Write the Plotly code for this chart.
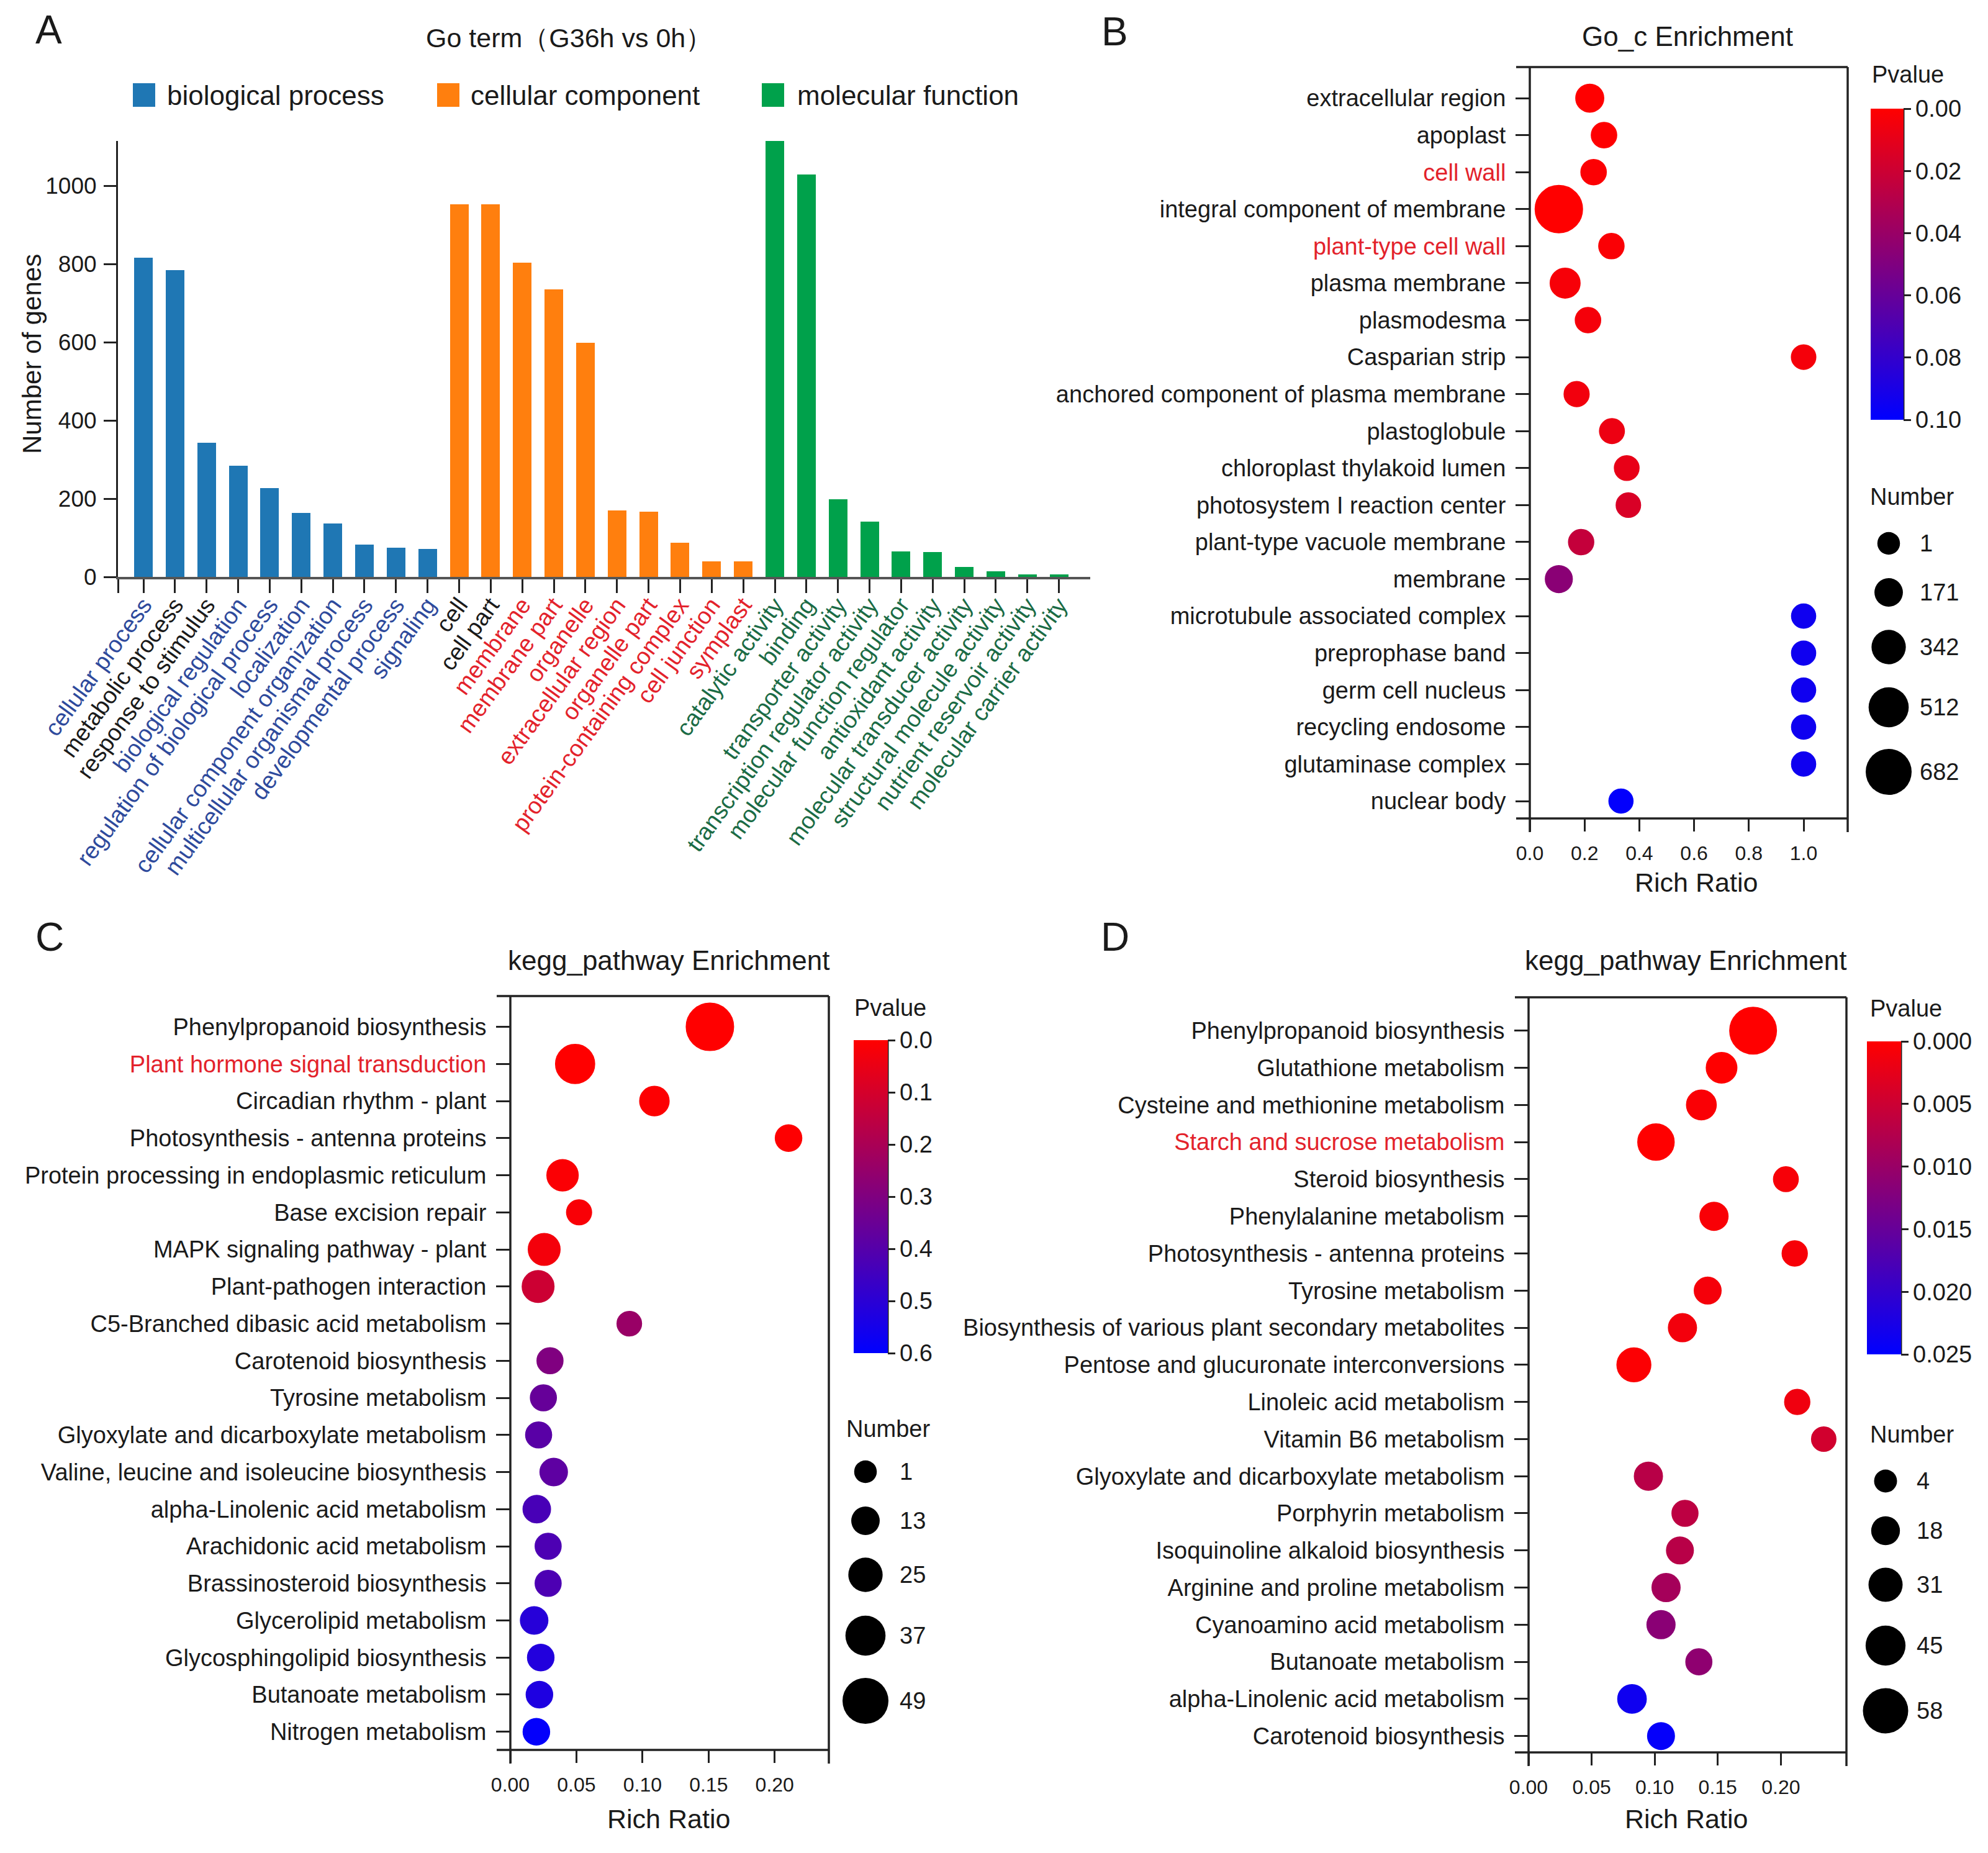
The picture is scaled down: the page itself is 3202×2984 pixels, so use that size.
import plotly.graph_objects as go

# ===================== DATA =====================
# Panel A: GO term bar chart (G36h vs 0h)
bp_terms = ["cellular process", "metabolic process", "response to stimulus", "biological regulation",
            "regulation of biological process", "localization", "cellular component organization",
            "multicellular organismal process", "developmental process", "signaling"]
bp_counts = [817, 785, 343, 285, 227, 163, 137, 82, 74, 71]
cc_terms = ["cell", "cell part", "membrane", "membrane part", "organelle", "extracellular region",
            "organelle part", "protein-containing complex", "cell junction", "symplast"]
cc_counts = [953, 953, 804, 735, 599, 170, 166, 88, 40, 40]
mf_terms = ["catalytic activity", "binding", "transporter activity", "transcription regulator activity",
            "molecular function regulator", "antioxidant activity", "molecular transducer activity",
            "structural molecule activity", "nutrient reservoir activity", "molecular carrier activity"]
mf_counts = [1115, 1029, 199, 142, 65, 63, 26, 15, 7, 6]
a_yticks = [0, 200, 400, 600, 800, 1000]
a_groups = ["biological process", "cellular component", "molecular function"]

# Panel B: Go_c Enrichment
goc_terms = ["extracellular region", "apoplast", "cell wall", "integral component of membrane",
             "plant-type cell wall", "plasma membrane", "plasmodesma", "Casparian strip",
             "anchored component of plasma membrane", "plastoglobule", "chloroplast thylakoid lumen",
             "photosystem I reaction center", "plant-type vacuole membrane", "membrane",
             "microtubule associated complex", "preprophase band", "germ cell nucleus",
             "recycling endosome", "glutaminase complex", "nuclear body"]
goc_ratio = [0.219, 0.271, 0.233, 0.106, 0.298, 0.129, 0.2125, 1.0, 0.171, 0.30, 0.354, 0.36,
             0.1875, 0.106, 1.0, 1.0, 1.0, 1.0, 1.0, 0.333]
goc_pvalue = [0.0, 0.0005, 0.001, 0.0, 0.002, 0.003, 0.004, 0.004, 0.005, 0.007, 0.009, 0.015,
              0.023, 0.046, 0.094, 0.094, 0.094, 0.094, 0.094, 0.099]
goc_number = [115, 40, 40, 682, 38, 172, 40, 12, 30, 25, 20, 12, 35, 86, 3, 3, 3, 3, 3, 2]
goc_xticks = [0.0, 0.2, 0.4, 0.6, 0.8, 1.0]
goc_pticks = [0.0, 0.02, 0.04, 0.06, 0.08, 0.10]
goc_size_legend = [1, 171, 342, 512, 682]

# Panel C: kegg_pathway Enrichment
kc_terms = ["Phenylpropanoid biosynthesis", "Plant hormone signal transduction", "Circadian rhythm - plant",
            "Photosynthesis - antenna proteins", "Protein processing in endoplasmic reticulum",
            "Base excision repair", "MAPK signaling pathway - plant", "Plant-pathogen interaction",
            "C5-Branched dibasic acid metabolism", "Carotenoid biosynthesis", "Tyrosine metabolism",
            "Glyoxylate and dicarboxylate metabolism", "Valine, leucine and isoleucine biosynthesis",
            "alpha-Linolenic acid metabolism", "Arachidonic acid metabolism", "Brassinosteroid biosynthesis",
            "Glycerolipid metabolism", "Glycosphingolipid biosynthesis", "Butanoate metabolism",
            "Nitrogen metabolism"]
kc_ratio = [0.151, 0.049, 0.109, 0.2105, 0.0395, 0.052, 0.0256, 0.021, 0.090, 0.030, 0.025, 0.0214,
            0.0328, 0.020, 0.0286, 0.0286, 0.018, 0.023, 0.022, 0.0197]
kc_pvalue = [0.0, 0.0, 0.005, 0.002, 0.01, 0.015, 0.025, 0.12, 0.24, 0.30, 0.36, 0.39, 0.38, 0.43,
             0.42, 0.42, 0.51, 0.52, 0.53, 0.59]
kc_number = [49, 32, 12, 6, 16, 3, 17, 17, 2, 5, 5, 5, 8, 8, 5, 5, 8, 6, 6, 6]
kc_xticks = [0.0, 0.05, 0.10, 0.15, 0.20]
kc_pticks = [0.0, 0.1, 0.2, 0.3, 0.4, 0.5, 0.6]
kc_size_legend = [1, 13, 25, 37, 49]

# Panel D: kegg_pathway Enrichment
kd_terms = ["Phenylpropanoid biosynthesis", "Glutathione metabolism", "Cysteine and methionine metabolism",
            "Starch and sucrose metabolism", "Steroid biosynthesis", "Phenylalanine metabolism",
            "Photosynthesis - antenna proteins", "Tyrosine metabolism",
            "Biosynthesis of various plant secondary metabolites", "Pentose and glucuronate interconversions",
            "Linoleic acid metabolism", "Vitamin B6 metabolism", "Glyoxylate and dicarboxylate metabolism",
            "Porphyrin metabolism", "Isoquinoline alkaloid biosynthesis", "Arginine and proline metabolism",
            "Cyanoamino acid metabolism", "Butanoate metabolism", "alpha-Linolenic acid metabolism",
            "Carotenoid biosynthesis"]
kd_ratio = [0.178, 0.153, 0.137, 0.101, 0.204, 0.147, 0.211, 0.142, 0.122, 0.0835, 0.213, 0.234,
            0.095, 0.124, 0.120, 0.109, 0.105, 0.135, 0.082, 0.105]
kd_pvalue = [0.0, 0.0, 0.0005, 0.0, 0.0008, 0.0006, 0.0008, 0.001, 0.0012, 0.0003, 0.0015, 0.0045,
             0.007, 0.0065, 0.007, 0.0088, 0.0115, 0.011, 0.0235, 0.0245]
kd_number = [58, 19, 17, 33, 5, 13, 6, 10, 13, 27, 6, 4, 13, 8, 10, 13, 13, 8, 14, 10]
kd_xticks = [0.0, 0.05, 0.10, 0.15, 0.20]
kd_pticks = [0.0, 0.005, 0.010, 0.015, 0.020, 0.025]
kd_size_legend = [4, 18, 31, 45, 58]

# highlighted labels
a_black_labels = {"metabolic process", "response to stimulus", "cell", "cell part"}
red_labels = {"cell wall", "plant-type cell wall", "Plant hormone signal transduction",
              "Starch and sucrose metabolism"}

# ===================== STYLE / GEOMETRY =====================
W, H = 3202, 2984
OFF = 8
FW, FH = W - 2 * OFF, H - 2 * OFF
FONT = "Liberation Sans, Arial, Helvetica, sans-serif"
TXT = "#1a1a1a"
AX = "#222222"
RED = "#e3222b"
BAR_COLORS = ["#1f77b4", "#ff7f0e", "#00a14b"]
A_LABEL_COLORS = ["#2e4a9c", "#e3222b", "#1b6b45"]
CSCALE = [[0.0, "#0000ff"], [1.0, "#ff0000"]]


def fx(p):
    return (p - OFF) / FW


def fy(p):
    return 1 - (p - OFF) / FH


def size_map(vals, lo, hi, dlo, dhi):
    return [dlo + (dhi - dlo) * (v - lo) / (hi - lo) for v in vals]


fig = go.Figure()
shapes = []
annotations = []


def ann(text, x, y, size, xanchor="center", yanchor="middle", color=TXT, angle=0):
    annotations.append(dict(text=text, x=x, y=y, xref="x5", yref="y5", showarrow=False,
                            font=dict(size=size, color=color, family=FONT),
                            xanchor=xanchor, yanchor=yanchor, textangle=angle))


def line(x0, y0, x1, y1, w=3.5, color=AX):
    shapes.append(dict(type="line", x0=x0, y0=y0, x1=x1, y1=y1, xref="x5", yref="y5",
                       line=dict(color=color, width=w)))


# ---------------- Panel A ----------------
groups = [(bp_terms, bp_counts), (cc_terms, cc_counts), (mf_terms, mf_counts)]
a_tickvals, a_ticktext = [-0.807], [""]
start = 0
for gi, (terms, counts) in enumerate(groups):
    xs = list(range(start, start + len(terms)))
    fig.add_trace(go.Bar(x=xs, y=counts, width=0.59, marker=dict(color=BAR_COLORS[gi], line=dict(width=0)),
                         xaxis="x", yaxis="y", showlegend=False, hoverinfo="skip"))
    for xv, t in zip(xs, terms):
        col = TXT if t in a_black_labels else A_LABEL_COLORS[gi]
        a_tickvals.append(xv)
        a_ticktext.append(f'<span style="color:{col}">{t}</span>')
    start += len(terms)

# legend for panel A
leg_x = [(214, 267), (704, 756), (1227, 1282)]
for gi, name in enumerate(a_groups):
    sx, tx = leg_x[gi]
    shapes.append(dict(type="rect", x0=sx, x1=sx + 36, y0=134, y1=172, xref="x5", yref="y5",
                       fillcolor=BAR_COLORS[gi], line=dict(width=0)))
    ann(name, tx, 153, 44, xanchor="left")

ann("Go term（G36h vs 0h）", 916, 61, 43)
ann("Number of genes", 51, 570, 42, angle=-90)


# ---------------- Bubble panels ----------------
def bubble_panel(k, terms, ratio, pvalue, number, xticks, xfmt, pticks, pfmt, leg_vals, size_rng,
                 box, pad, cbar, cbar_title_xy, num_title_xy, leg_cx, leg_cys, leg_lx,
                 title, title_xy, rr_xy, letter, letter_xy):
    L, R, T, B = box
    lo, hi = leg_vals[0], leg_vals[-1]
    dlo, dhi = size_rng
    sizes = size_map(number, lo, hi, dlo, dhi)
    pmax = pticks[-1]
    cvals = [-p for p in pvalue]
    n = len(terms)
    cbl, cbt, cbr, cbb = cbar
    fig.add_trace(go.Scatter(
        x=ratio, y=list(range(n)), mode="markers", xaxis=f"x{k}", yaxis=f"y{k}",
        showlegend=False, hoverinfo="skip",
        marker=dict(size=sizes, color=cvals, colorscale=CSCALE, cmin=-pmax, cmax=0, opacity=1,
                    line=dict(width=4, color=cvals, colorscale=CSCALE, cmin=-pmax, cmax=0),
                    colorbar=dict(x=fx(cbl), xanchor="left", y=fy(cbt), yanchor="top",
                                  len=(cbb - cbt) / FH, lenmode="fraction", thickness=cbr - cbl,
                                  thicknessmode="pixels", xpad=0, ypad=0, outlinewidth=0,
                                  tickmode="array", tickvals=[-v for v in pticks],
                                  ticktext=[format(v, pfmt) for v in pticks],
                                  ticks="outside", ticklen=12, tickwidth=3, tickcolor=AX,
                                  tickfont=dict(size=38, color=TXT, family=FONT),
                                  title=dict(text="")))))
    line(cbr, cbt, cbr, cbb, w=3)
    # size legend
    fig.add_trace(go.Scatter(x=[leg_cx] * len(leg_vals), y=leg_cys, mode="markers",
                             xaxis="x5", yaxis="y5", showlegend=False, hoverinfo="skip",
                             marker=dict(size=size_map(leg_vals, lo, hi, dlo, dhi), color="#000000",
                                         opacity=1, line=dict(width=0))))
    for v, cy in zip(leg_vals, leg_cys):
        ann(str(v), leg_lx, cy, 38, xanchor="left")
    ann("Pvalue", cbar_title_xy[0], cbar_title_xy[1], 38, xanchor="left")
    ann("Number", num_title_xy[0], num_title_xy[1], 38, xanchor="left")
    ann(title, title_xy[0], title_xy[1], 44)
    ann("Rich Ratio", rr_xy[0], rr_xy[1], 43)
    ann(letter, letter_xy[0], letter_xy[1], 64)
    # frame (Prism style, axes overshoot by tick length)
    tl = 22
    line(L, T, L, B + tl)
    line(L - tl, B, R, B)
    line(L - tl, T, R, T)
    line(R, T, R, B + tl)
    ticktext = [f'<span style="color:{RED}">{t}</span>' if t in red_labels else t for t in terms]
    xaxis = dict(domain=[fx(L), fx(R)], range=[0, pad[2]], anchor=f"y{k}",
                 tickmode="array", tickvals=xticks, ticktext=[format(v, xfmt) for v in xticks],
                 ticks="outside", ticklen=20, tickwidth=3, tickcolor=AX, showline=False,
                 showgrid=False, zeroline=False, tickfont=dict(size=32, color=TXT, family=FONT),
                 ticklabelstandoff=8)
    yaxis = dict(domain=[fy(B), fy(T)], range=[n - 1 + pad[1], -pad[0]], anchor=f"x{k}",
                 tickmode="array", tickvals=list(range(n)), ticktext=ticktext,
                 ticks="outside", ticklen=22, tickwidth=3, tickcolor=AX, showline=False,
                 showgrid=False, zeroline=False, tickfont=dict(size=38, color=TXT, family=FONT),
                 ticklabelstandoff=8)
    return xaxis, yaxis


xB, yB = bubble_panel(2, goc_terms, goc_ratio, goc_pvalue, goc_number, goc_xticks, ".1f", goc_pticks, ".2f",
                      goc_size_legend, (36.5, 74), (2464, 2976, 108, 1318), (0.84, 0.47, 1.161),
                      (3013, 175, 3066, 676), (3013, 120), (3010, 800), 3042,
                      [875, 954, 1042, 1139, 1243], 3090,
                      "Go_c Enrichment", (2718, 58), (2732, 1421), "B", (1795, 51))
xC, yC = bubble_panel(3, kc_terms, kc_ratio, kc_pvalue, kc_number, kc_xticks, ".2f", kc_pticks, ".1f",
                      kc_size_legend, (36.5, 74), (822, 1335, 1604, 2818), (0.83, 0.49, 0.241),
                      (1375, 1675, 1430, 2179), (1374, 1623), (1361, 2301), 1394,
                      [2370, 2449, 2536, 2634, 2739], 1447,
                      "kegg_pathway Enrichment", (1077, 1546), (1077, 2929), "C", (80, 1509))
xD, yD = bubble_panel(4, kd_terms, kd_ratio, kd_pvalue, kd_number, kd_xticks, ".2f", kd_pticks, ".3f",
                      kd_size_legend, (37, 73), (2462, 2974, 1606, 2822), (0.90, 0.44, 0.252),
                      (3007, 1677, 3062, 2181), (3010, 1624), (3010, 2310), 3037,
                      [2385, 2465, 2552, 2650, 2755], 3085,
                      "kegg_pathway Enrichment", (2715, 1546), (2716, 2929), "D", (1796, 1509))

ann("A", 78, 48, 64)

fig.update_layout(
    width=FW, height=FH, margin=dict(l=0, r=0, t=0, b=0, pad=0, autoexpand=False),
    paper_bgcolor="white", plot_bgcolor="rgba(0,0,0,0)", showlegend=False,
    font=dict(family=FONT, color=TXT, size=38),
    bargap=0,
    xaxis=dict(domain=[fx(190), fx(1756)], range=[-0.807, 29.99], anchor="y",
               tickmode="array", tickvals=a_tickvals, ticktext=a_ticktext, tickangle=-54,
               ticks="outside", ticklen=22, tickwidth=2.5, tickcolor=AX,
               showline=True, linecolor="#555555", linewidth=4, showgrid=False, zeroline=False,
               tickfont=dict(size=38, family=FONT), ticklabelstandoff=-18, automargin=False),
    yaxis=dict(domain=[fy(929), fy(227)], range=[0, 1115], anchor="x",
               tickmode="array", tickvals=a_yticks, ticks="outside", ticklen=20, tickwidth=3,
               tickcolor=AX, showline=True, linecolor=AX, linewidth=3, showgrid=False,
               zeroline=False, tickfont=dict(size=37, color=TXT, family=FONT), ticklabelstandoff=4,
               automargin=False),
    xaxis2=xB, yaxis2=yB, xaxis3=xC, yaxis3=yC, xaxis4=xD, yaxis4=yD,
    xaxis5=dict(domain=[0, 1], range=[OFF, W - OFF], anchor="y5", visible=False, fixedrange=True),
    yaxis5=dict(domain=[0, 1], range=[H - OFF, OFF], anchor="x5", visible=False, fixedrange=True),
    shapes=shapes, annotations=annotations,
)

fig.write_html("out.html")
